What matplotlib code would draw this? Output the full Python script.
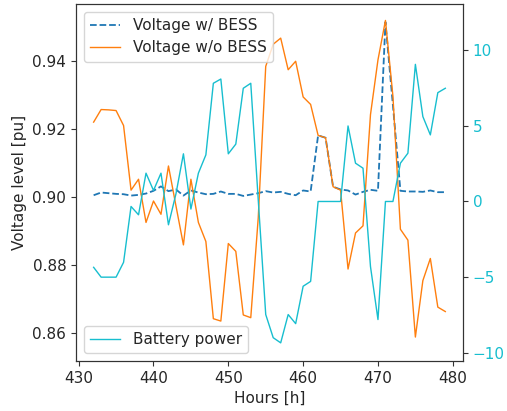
import matplotlib
matplotlib.use('Agg')
import matplotlib.pyplot as plt

# hourly results, hours 432..479
hours = list(range(432, 480))

# bus voltage with the battery storage in service [pu]
v_bess = [0.9006, 0.9014, 0.9012, 0.9010, 0.9009, 0.9005, 0.9007, 0.9011,
          0.9019, 0.9032, 0.9018, 0.9023, 0.9005, 0.9020, 0.9014, 0.9009,
          0.9010, 0.9017, 0.9010, 0.9010, 0.9004, 0.9008, 0.9012, 0.9018,
          0.9014, 0.9016, 0.9010, 0.9006, 0.9020, 0.9017, 0.9182, 0.9175,
          0.9031, 0.9023, 0.9020, 0.9008, 0.9016, 0.9022, 0.9019, 0.9515,
          0.9270, 0.9019, 0.9017, 0.9017, 0.9016, 0.9020, 0.9015, 0.9015]

# bus voltage without the battery [pu]
v_no_bess = [0.9221, 0.9258, 0.9257, 0.9255, 0.9211, 0.9021, 0.9053, 0.8926,
             0.8989, 0.8950, 0.9092, 0.8975, 0.8860, 0.9053, 0.8926, 0.8870,
             0.8643, 0.8636, 0.8864, 0.8841, 0.8654, 0.8646, 0.8940, 0.9385,
             0.9450, 0.9468, 0.9375, 0.9400, 0.9295, 0.9273, 0.9182, 0.9175,
             0.9031, 0.9021, 0.8789, 0.8895, 0.8916, 0.9243, 0.9404, 0.9520,
             0.9297, 0.8906, 0.8874, 0.8589, 0.8755, 0.8820, 0.8677, 0.8664]

# battery active power
p_batt = [-4.35, -5.0, -5.0, -5.0, -4.02, -0.33, -0.88, 1.87,
          0.73, 1.87, -1.54, 0.5, 3.15, -0.5, 1.87, 3.08,
          7.81, 8.09, 3.15, 3.79, 7.48, 7.81, 0.1, -7.47,
          -9.0, -9.34, -7.47, -8.07, -5.6, -5.28, 0.0, 0.0,
          0.0, 0.0, 4.99, 2.53, 2.2, -4.3, -7.8, 0.0,
          0.0, 2.53, 3.19, 9.06, 5.61, 4.4, 7.19, 7.48]

plt.rcParams['font.size'] = 11
plt.rcParams['text.color'] = '0.15'
plt.rcParams['axes.labelcolor'] = '0.15'
plt.rcParams['axes.edgecolor'] = '0.2'
plt.rcParams['xtick.color'] = '0.2'
plt.rcParams['ytick.color'] = '0.2'
plt.rcParams['xtick.labelcolor'] = '0.15'
plt.rcParams['ytick.labelcolor'] = '0.15'

fig, ax = plt.subplots(figsize=(5.07, 4.11), dpi=100)
fig.subplots_adjust(left=0.150, right=0.913, top=0.990, bottom=0.122)

ax.plot(hours, v_bess, '--', color='#1f77b4', lw=1.3, label='Voltage w/ BESS')
ax.plot(hours, v_no_bess, '-', color='#ff7f0e', lw=1.0, label='Voltage w/o BESS')
ax.set_ylim(0.8519, 0.9568)
ax.set_xlabel('Hours [h]')
ax.set_ylabel('Voltage level [pu]')
ax.legend(loc='upper left', fontsize=11)

ax2 = ax.twinx()
ax2.plot(hours, p_batt, '-', color='#17becf', lw=1.0, label='Battery power')
ax2.set_ylim(-10.53, 13.04)
ax2.tick_params(axis='y', labelcolor='#17becf')
ax2.legend(loc='lower left', fontsize=11)

plt.savefig('out.png', dpi=100)
